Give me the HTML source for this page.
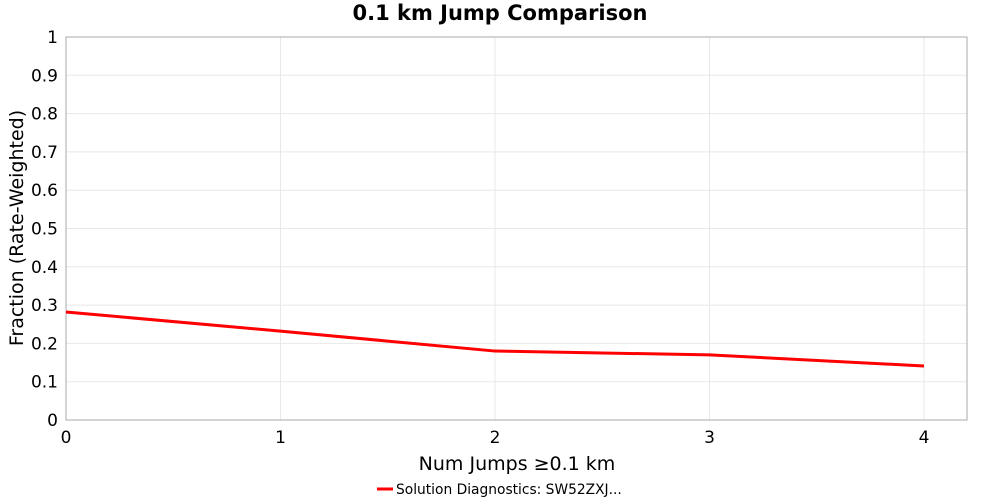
<!DOCTYPE html>
<html><head><meta charset="utf-8"><style>
body{margin:0;background:#fff;font-family:"DejaVu Sans","Liberation Sans",sans-serif;}
</style></head><body>
<svg width="1000" height="500" xmlns="http://www.w3.org/2000/svg">
<text x="500" y="20" text-anchor="middle" font-size="21" font-weight="bold" font-family="DejaVu Sans, sans-serif">0.1 km Jump Comparison</text>
<rect x="66" y="37" width="901" height="383" fill="#fff"/>
<g id="grid"></g>
<rect x="66" y="37" width="901" height="383" fill="none" stroke="#aaa"/>
<g id="axes"></g><g id="series"></g>
<text x="517" y="470" text-anchor="middle" font-size="19" font-family="DejaVu Sans, sans-serif">Num Jumps ≥0.1 km</text>
<text transform="translate(23,228) rotate(-90)" text-anchor="middle" font-size="19" font-family="DejaVu Sans, sans-serif">Fraction (Rate-Weighted)</text>
<g>
<line x1="377" y1="489" x2="393" y2="489" stroke="#f00" stroke-width="3"/>
<text x="396" y="494" font-size="13.8" font-family="DejaVu Sans, sans-serif">Solution Diagnostics: SW52ZXJ...</text>
</g>
</svg>
<script>
const xCats=[0,1,2,3,4];
const yVals=[0.282,0.232,0.18,0.17,0.141];
const xTicks=[0,1,2,3,4];
const yTicks=[0,0.1,0.2,0.3,0.4,0.5,0.6,0.7,0.8,0.9,1];
const ns="http://www.w3.org/2000/svg";
const X=v=>66+v*214.5, Y=v=>420-v*383;
function mk(t,a,p){const e=document.createElementNS(ns,t);for(const k in a)e.setAttribute(k,a[k]);p.appendChild(e);return e;}
const g=document.getElementById('grid'),ax=document.getElementById('axes'),s=document.getElementById('series');
yTicks.forEach(v=>{
 const l=mk('line',{x1:66,x2:967,y1:Y(v),y2:Y(v),stroke:'#e8e8e8'},g);
 
 
 const t=mk('text',{x:58,y:Y(v)+6,'text-anchor':'end','font-size':17},ax);
 t.textContent=String(v);
 
 
});
xTicks.forEach(v=>{
 const l=mk('line',{x1:X(v),x2:X(v),y1:37,y2:420,stroke:'#e8e8e8'},g);
 
 
 const t=mk('text',{x:X(v),y:443,'text-anchor':'middle','font-size':17},ax);
 t.textContent=String(v);
 
 
});
const pl=mk('polyline',{points:xCats.map((x,i)=>X(x)+','+Y(yVals[i])).join(' '),fill:'none',stroke:'#f00','stroke-width':3},s);


</script>
</body></html>
